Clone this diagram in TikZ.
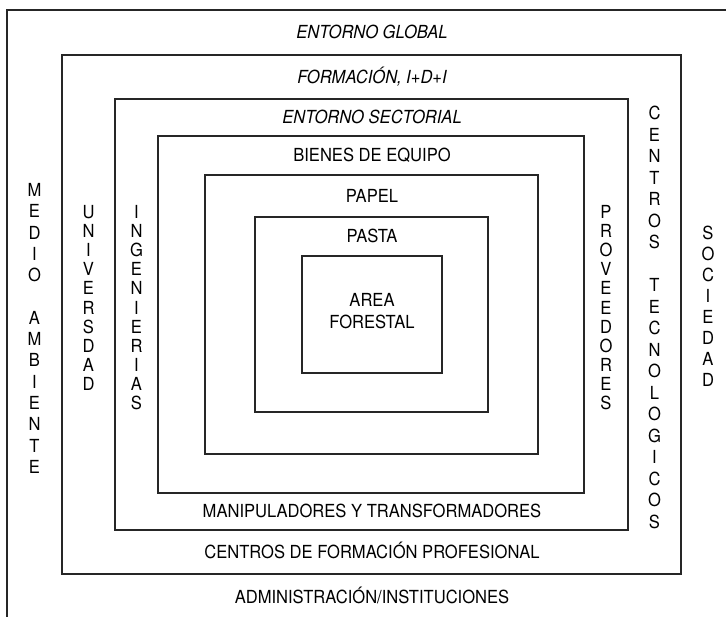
\documentclass[tikz,border=0pt]{standalone}
\usepackage{fontspec}
\setmainfont[FakeStretch=0.92]{TeX Gyre Heros}
\begin{document}
\begin{tikzpicture}[x=1pt,y=-1pt,
    box/.style={draw=black!85,line width=1.6pt},
    lbl/.style={anchor=base,inner sep=0pt,font=\fontsize{18}{21}\selectfont},
    ital/.style={lbl,font=\fontsize{18}{21}\selectfont\itshape},
    letter/.style={inner sep=0pt,font=\fontsize{18}{21}\selectfont}]
  \useasboundingbox (0,0) rectangle (726,617);
  \draw[box] (726,10) -- (7,10) -- (7,617);
  \draw[box] (62,55) rectangle (681,574);
  \draw[box] (115,99) rectangle (628,530);
  \draw[box] (158,136) rectangle (584,493);
  \draw[box] (205,175) rectangle (538,454);
  \draw[box,line width=2.2pt] (255,217) rectangle (488,412);
  \draw[box] (302,256) rectangle (442,373);
  \node[ital] (global) at (372,39) {ENTORNO GLOBAL};
  \node[ital] (formacion) at (372,83.5) {FORMACIÓN, I+D+I};
  \node[ital] (sectorial) at (372,124) {ENTORNO SECTORIAL};
  \node[lbl] (bienes) at (372,162) {BIENES DE EQUIPO};
  \node[lbl] (papel) at (372,202.5) {PAPEL};
  \node[lbl] (pasta) at (372,243) {PASTA};
  \node[lbl] (area) at (372,306.5) {AREA};
  \node[lbl] (forestal) at (372,328.5) {FORESTAL};
  \node[lbl] (manipuladores) at (372,518) {MANIPULADORES Y TRANSFORMADORES};
  \node[lbl] (centrosfp) at (372,558.5) {CENTROS DE FORMACIÓN PROFESIONAL};
  \node[lbl] (administracion) at (372,603.5) {ADMINISTRACIÓN/INSTITUCIONES};
  \foreach \c [count=\i from 0] in {M,E,D,I,O,,A,M,B,I,E,N,T,E}
    \node[letter] (medio\i) at (34.5,190+21.3*\i) {\c};
  \foreach \c [count=\i from 0] in {U,N,I,V,E,R,S,D,A,D}
    \node[letter] (univ\i) at (88.5,212+19.1*\i) {\c};
  \foreach \c [count=\i from 0] in {I,N,G,E,N,I,E,R,I,A,S}
    \node[letter] (ing\i) at (136.5,212+19.1*\i) {\c};
  \foreach \c [count=\i from 0] in {P,R,O,V,E,E,D,O,R,E,S}
    \node[letter] (prov\i) at (606,212+19.1*\i) {\c};
  \foreach \c [count=\i from 0] in {C,E,N,T,R,O,S,,T,E,C,N,O,L,O,G,I,C,O,S}
    \node[letter] (centec\i) at (654.5,113+21.5*\i) {\c};
  \foreach \c [count=\i from 0] in {S,O,C,I,E,D,A,D}
    \node[letter] (soc\i) at (708,233+21*\i) {\c};
\end{tikzpicture}
\end{document}
